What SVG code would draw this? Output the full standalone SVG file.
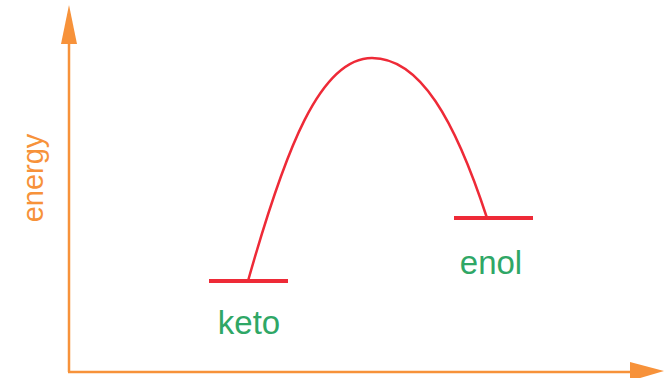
<svg xmlns="http://www.w3.org/2000/svg" width="665" height="378" viewBox="0 0 665 378">
<style>
.axis{stroke:#F7923A;stroke-width:2.5;fill:none}
.head{fill:#F7923A}
.level{stroke:#EE2A37;stroke-width:4;fill:none}
.curve{stroke:#EE2A37;stroke-width:2.5;fill:none}
.lbl{font-family:"Liberation Sans",Arial,sans-serif;font-size:33px;fill:#2FA766}
.axlbl{font-family:"Liberation Sans",Arial,sans-serif;font-size:29px;fill:#F7923A}
</style>
<g id="connectors">
<line class="axis" x1="69" y1="372" x2="69" y2="40"/>
<polygon class="head" points="69,5 61,44 77,44"/>
<line class="axis" x1="68" y1="372" x2="635" y2="372"/>
<polygon class="head" points="664,371 630,362 630,381"/>
<path class="curve" d="M248,281 C285,150 320,58 372,58 C420,58 455,120 487,218"/>
</g>
<g id="yaxis-label"><text class="axlbl" transform="translate(43,178) rotate(-90)" text-anchor="middle">energy</text></g>
<g id="keto"><line class="level" x1="209" y1="281" x2="288" y2="281"/><text class="lbl" x="249" y="334" text-anchor="middle">keto</text></g>
<g id="enol"><line class="level" x1="454" y1="218" x2="533" y2="218"/><text class="lbl" x="491" y="274" text-anchor="middle">enol</text></g>
</svg>
